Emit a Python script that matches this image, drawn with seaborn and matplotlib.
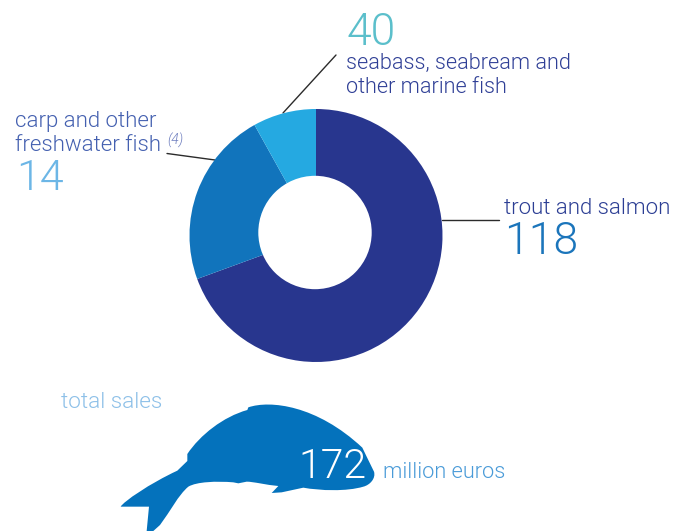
import matplotlib
matplotlib.use("Agg")
import matplotlib.pyplot as plt
from matplotlib.patches import PathPatch, Circle
from matplotlib.path import Path
import seaborn as sns

slice_names = ["trout and salmon", "carp and other freshwater fish", "seabass, seabream and other marine fish"]
slice_values = [119.4, 38.7, 13.9]
slice_colors = ["#28368E", "#1174BC", "#25A9E1"]
label_numbers = ["118", "14", "40"]
total_value = "172"

# Decorative silhouette in 3x crop pixels relative to (100, 380): (code, points)
M, L, C = Path.MOVETO, Path.LINETO, Path.CURVE4
fish_segments = [
    (M, [(262,222)]), (C, [(300,165),(370,110),(442,90)]), (L, [(445,82)]),
    (C, [(510,60),(650,75),(787,203)]), (L, [(800,230)]), (L, [(822,275)]),
    (C, [(828,295),(810,315),(790,320)]), (C, [(740,335),(660,332),(610,323)]),
    (L, [(545,337)]), (L, [(515,339)]), (L, [(535,318)]),
    (C, [(500,315),(460,305),(440,305)]), (L, [(415,310)]), (L, [(400,307)]),
    (C, [(350,303),(290,305),(265,320)]), (C, [(235,345),(210,395),(180,435)]),
    (L, [(160,453)]), (L, [(140,453)]), (L, [(147,380)]), (L, [(62,380)]),
    (C, [(70,365),(150,310),(232,272)]), (L, [(262,243)]), (L, [(262,222)]),
]

sns.set_theme(style="white")
FONT = "Roboto"
W, H = 688, 531
fig = plt.figure(figsize=(W/100, H/100), dpi=100, facecolor="white")

ov = fig.add_axes([0, 0, 1, 1])
ov.set_xlim(0, W); ov.set_ylim(H, 0); ov.axis("off")

cx, cy, r = 316, 235.5, 126.5
pie_ax = fig.add_axes([(cx-r)/W, 1-(cy+r)/H, 2*r/W, 2*r/H])
pie_ax.pie(slice_values, colors=slice_colors, startangle=90, counterclock=False, radius=1,
           wedgeprops=dict(linewidth=0))
# the hole sits slightly above the ring's centre in the reference
pie_ax.add_patch(Circle((-1/r, 3/r), 56.7/r, fc="white", ec="none", zorder=5))
pie_ax.set_xlim(-1, 1); pie_ax.set_ylim(-1, 1)

def T(x, y, s, size, color, **kw):
    ov.text(x, y, s, fontsize=size, color=color, family=FONT, fontweight=300, va="baseline", ha="left", **kw)

for xs, ys in [((283, 336), (113, 55)), ((167, 215), (153.5, 160)), ((442, 499), (220, 220))]:
    ov.plot(xs, ys, color="#2B2B2B", lw=1)

T(346, 45, label_numbers[2], 32, "#5BBFCB")
T(346, 69, "seabass, seabream and", 15.6, "#2F3F96")
T(346, 93, "other marine fish", 15.6, "#2F3F96")
T(15, 127, "carp and other", 16, "#4460B0")
T(15, 151, "freshwater fish", 16, "#4460B0")
T(167, 145, "(4)", 10, "#6F7FBF", style="italic")
T(16, 190, label_numbers[1], 31, "#6CB6E6")
T(504, 214, "trout and salmon", 16, "#2C3E94")
T(504, 254, label_numbers[0], 32, "#1B75BB")
T(61, 408, "total sales", 16.2, "#8DC0E8")

verts, codes = [], []
for code, pts in fish_segments:
    for p in pts:
        verts.append((100+p[0]/3, 380+p[1]/3)); codes.append(code)
ov.add_patch(PathPatch(Path(verts, codes), fc="#0472BC", ec="none"))
T(298, 478, total_value, 29.5, "white")
T(383, 478, "million euros", 15.7, "#4A9BD8")

fig.savefig("out.png", dpi=100, facecolor="white")
